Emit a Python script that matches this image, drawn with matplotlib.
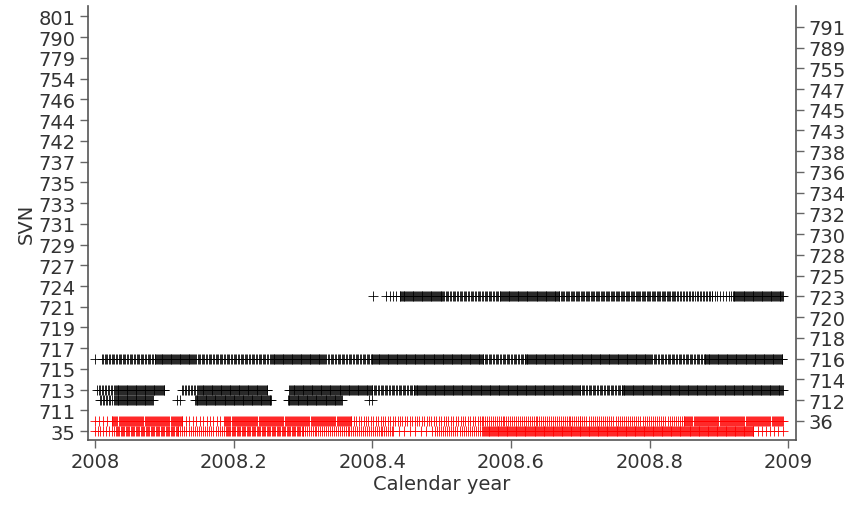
import numpy as np
import matplotlib
matplotlib.use('Agg')
import matplotlib.pyplot as plt
from matplotlib import rcParams

rcParams.update({'font.family': 'DejaVu Sans', 'font.size': 14})

# satellites on the y axis, bottom to top
svn = ['35', '36', '711', '712', '713', '714', '715', '716', '717', '718', '719', '720',
       '721', '723', '724', '725', '727', '728', '729', '730', '731', '732', '733', '734',
       '735', '736', '737', '738', '742', '743', '744', '745', '746', '747', '754', '755',
       '779', '789', '790', '791', '801']

# observed spans per satellite: (start, end, sampling interval in years)
obs_35 = [(2008.000, 2008.030, 0.004), (2008.030, 2008.120, 0.0018), (2008.120, 2008.190, 0.003),
          (2008.190, 2008.300, 0.0018), (2008.300, 2008.430, 0.0028), (2008.430, 2008.490, 0.008),
          (2008.490, 2008.560, 0.003), (2008.560, 2008.950, 0.0013), (2008.950, 2008.993, 0.006)]
obs_36 = [(2008.000, 2008.025, 0.006), (2008.025, 2008.126, 0.0015), (2008.126, 2008.188, 0.005),
          (2008.188, 2008.370, 0.0015), (2008.370, 2008.560, 0.0035), (2008.560, 2008.700, 0.0028),
          (2008.700, 2008.850, 0.003), (2008.850, 2008.993, 0.0015)]
obs_712 = [(2008.007, 2008.030, 0.0022), (2008.030, 2008.084, 0.0013), (2008.118, 2008.124, 0.004),
           (2008.144, 2008.255, 0.0013), (2008.278, 2008.356, 0.0013), (2008.395, 2008.399, 0.004)]
obs_713 = [(2008.003, 2008.030, 0.0022), (2008.030, 2008.101, 0.0013), (2008.125, 2008.150, 0.0022),
           (2008.150, 2008.250, 0.0013), (2008.280, 2008.400, 0.0013), (2008.400, 2008.460, 0.002),
           (2008.460, 2008.700, 0.0013), (2008.700, 2008.760, 0.002), (2008.760, 2008.993, 0.0013)]
obs_716 = [(2008.000, 2008.001, 0.004), (2008.010, 2008.087, 0.002), (2008.087, 2008.144, 0.0013),
           (2008.144, 2008.255, 0.002), (2008.255, 2008.330, 0.0013), (2008.330, 2008.400, 0.002),
           (2008.400, 2008.560, 0.0013), (2008.560, 2008.620, 0.002), (2008.620, 2008.800, 0.0013),
           (2008.800, 2008.880, 0.002), (2008.880, 2008.993, 0.0013)]
obs_723 = [(2008.401, 2008.402, 0.004), (2008.420, 2008.440, 0.005), (2008.440, 2008.500, 0.0013),
           (2008.500, 2008.585, 0.002), (2008.585, 2008.670, 0.0013), (2008.670, 2008.837, 0.0018),
           (2008.837, 2008.890, 0.0022), (2008.890, 2008.920, 0.004), (2008.920, 2008.993, 0.0013)]

series = [('35', obs_35, 'red'), ('36', obs_36, 'red'), ('712', obs_712, 'black'),
          ('713', obs_713, 'black'), ('716', obs_716, 'black'), ('723', obs_723, 'black')]

xticks = [2008, 2008.2, 2008.4, 2008.6, 2008.8, 2009]

fig = plt.figure(figsize=(8.52, 5.06), dpi=100)
ax = fig.add_axes([0.1033, 0.1285, 0.8307, 0.8575])

for name, spans, col in series:
    t = np.concatenate([np.arange(a, b + 1e-9, s) for a, b, s in spans])
    y = np.full(len(t), svn.index(name))
    ax.plot(t, y, '+', color=col, markersize=7, markeredgewidth=0.6)

ax.set_xlim(2007.99, 2009.011)
ax.set_ylim(-0.85, 41.0)
ax.set_xticks(xticks)
ax.set_xticklabels(['%g' % v for v in xticks])
ax.set_yticks(range(0, len(svn), 2))
ax.set_yticklabels(svn[0::2])
ax.set_xlabel('Calendar year', color='#333333', labelpad=2)
ax.set_ylabel('SVN', color='#333333', labelpad=2)

ax2 = ax.twinx()
ax2.set_ylim(ax.get_ylim())
ax2.set_yticks(range(1, len(svn), 2))
ax2.set_yticklabels(svn[1::2])

for a in (ax, ax2):
    for s in a.spines.values():
        s.set_visible(False)
    a.tick_params(direction='out', length=6, width=1, color='#666666', labelcolor='#333333', pad=3)
ax.spines['left'].set_visible(True)
ax.spines['bottom'].set_visible(True)
ax2.spines['right'].set_visible(True)
for s in (ax.spines['left'], ax.spines['bottom'], ax2.spines['right']):
    s.set_color('#555555')
    s.set_linewidth(1.2)

fig.savefig('out.png', dpi=100)
